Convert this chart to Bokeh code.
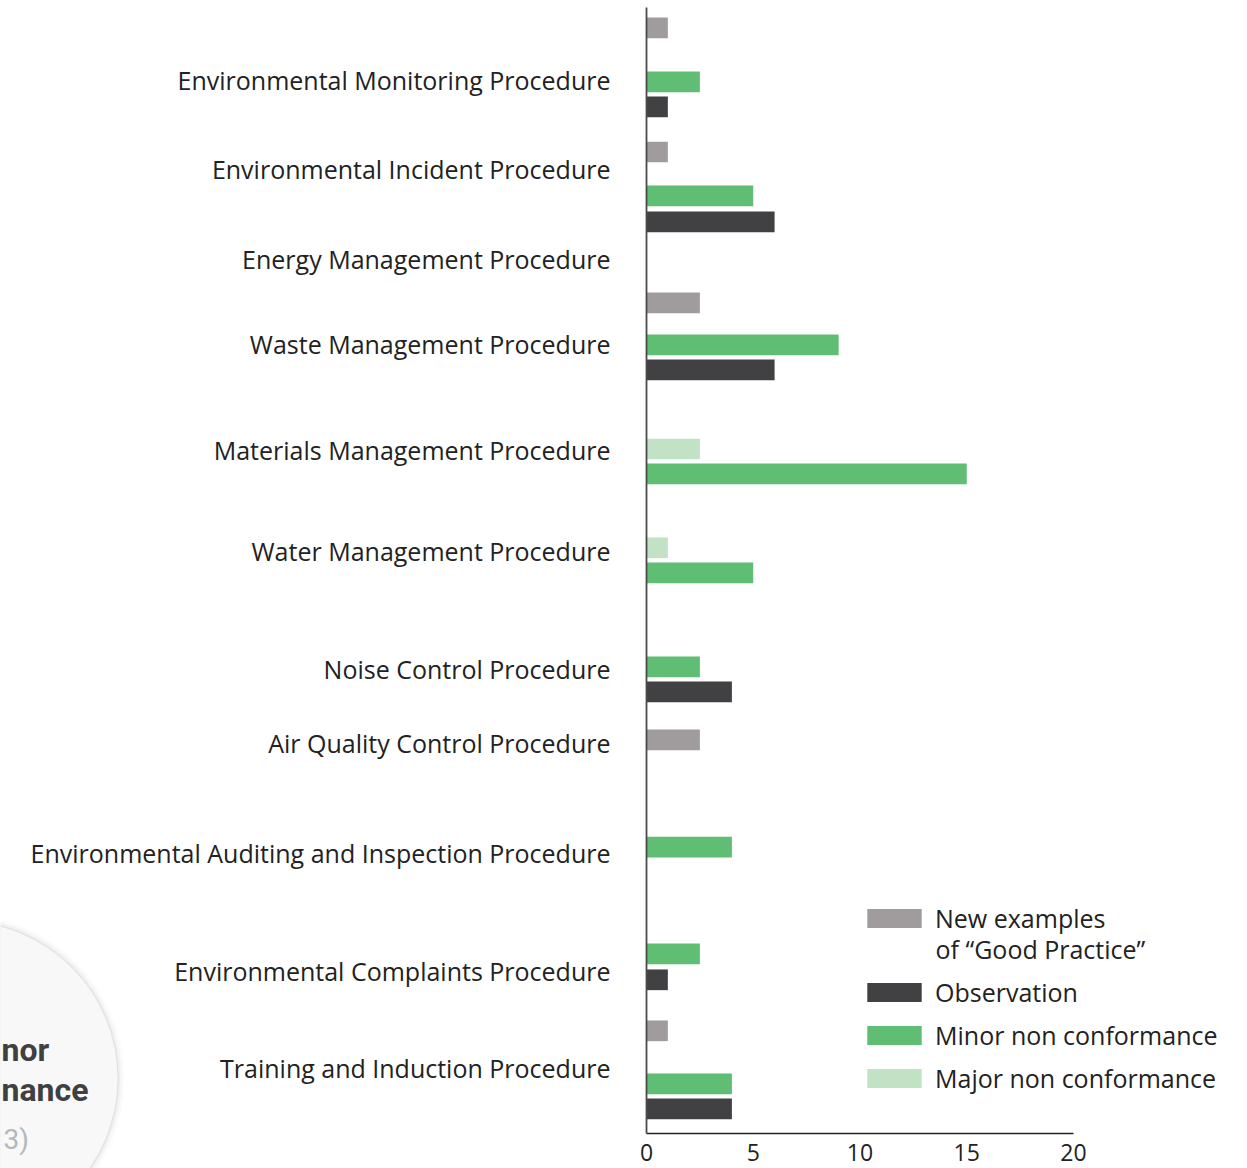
import math
from bokeh.plotting import figure
from bokeh.models import Range1d, FixedTicker, Legend, LegendItem, ColumnDataSource
from bokeh.core.properties import value
from bokeh.embed import file_html
from bokeh.resources import INLINE

# ---------------- data ----------------
categories = [
    "Environmental Monitoring Procedure",
    "Environmental Incident Procedure",
    "Energy Management Procedure",
    "Waste Management Procedure",
    "Materials Management Procedure",
    "Water Management Procedure",
    "Noise Control Procedure",
    "Air Quality Control Procedure",
    "Environmental Auditing and Inspection Procedure",
    "Environmental Complaints Procedure",
    "Training and Induction Procedure",
]
good_practice = [1, 1, 0, 2.5, 0, 0, 0, 2.5, 0, 0, 1]
observation = [1, 6, 0, 6, 0, 0, 4, 0, 0, 1, 4]
minor_nc = [2.5, 5, 0, 9, 15, 5, 2.5, 0, 4, 2.5, 4]
major_nc = [0, 0, 0, 0, 2.5, 1, 0, 0, 0, 0, 0]
x_ticks = [0, 5, 10, 15, 20]
series_labels = [
    "New examples",
    "Observation",
    "Minor non conformance",
    "Major non conformance",
]
series_label_extra = "of \u201cGood Practice\u201d"
badge_lines = ["nor", "nance", "3)"]   # visible part of the cropped neighbouring badge

# ---------------- layout (vertical positions in page pixels) ----------------
N = float("nan")
label_y = [79, 168, 258, 343, 449, 550, 668, 742, 852, 970, 1067]
slot_y = {
    "good": [27.3, 151.5, N, 302.3, N, N, N, 739.3, N, N, 1030.3],
    "obs": [106.3, 221.3, N, 369.3, N, N, 691.3, N, N, 979.3, 1108.3],
    "minor": [81.3, 195.3, N, 344.3, 473.3, 572.3, 666.3, N, 846.7, 953.3, 1083.3],
    "major": [N, N, N, N, 448.5, 547.3, N, N, N, N, N],
}
colors = {"good": "#a09c9d", "obs": "#414143", "minor": "#5fbd74", "major": "#c2e2c6"}

W, H = 1240, 1168
X0 = 646              # page px where x = 0
PPU = 21.35           # px per unit
AXIS_Y = 1133         # page px of the x axis line
def px_x(page_px):
    return (page_px - X0) / PPU

FONT = "Open Sans"
p = figure(width=W, height=H,
           x_range=Range1d(-X0 / PPU, (W - X0) / PPU),
           y_range=Range1d(H, 0),
           output_backend="svg", toolbar_location=None,
           min_border_left=0, min_border_right=0, min_border_top=0, min_border_bottom=0)
p.outline_line_color = None
p.grid.visible = False
p.background_fill_color = "white"
p.border_fill_color = "white"

# decorative badge (cropped circle from neighbouring panel)
for extra, a in [(14, 0.015), (9, 0.025), (5, 0.035), (2, 0.045)]:
    p.scatter(x=[px_x(-40)], y=[1078], size=314 + extra, marker="circle",
              fill_color="#000000", fill_alpha=a, line_color=None)
p.scatter(x=[px_x(-40)], y=[1078], size=314, marker="circle",
          fill_color="#f8f8f8", line_color=None)
p.text(x=[px_x(1)], y=[1049], text=[badge_lines[0]], text_align="left", text_baseline="middle",
       text_font=value("Roboto"), text_font_style="bold", text_font_size="32px", text_color="#3f4042")
p.text(x=[px_x(1)], y=[1089], text=[badge_lines[1]], text_align="left", text_baseline="middle",
       text_font=value("Roboto"), text_font_style="bold", text_font_size="32px", text_color="#3f4042")
p.text(x=[px_x(3)], y=[1139], text=[badge_lines[2]], text_align="left", text_baseline="middle",
       text_font=value("Roboto"), text_font_size="28px", text_color="#b5b7ba")

series = [("good", good_practice), ("obs", observation), ("minor", minor_nc), ("major", major_nc)]
renderers = {}
for key, vals in series:
    ys, xs = [], []
    for yy, v in zip(slot_y[key], vals):
        if v > 0 and not math.isnan(yy):
            ys.append(yy)
            xs.append(v)
    src = ColumnDataSource(dict(y=ys, right=xs))
    renderers[key] = p.hbar(y="y", right="right", left=0, height=20.7, source=src,
                            fill_color=colors[key], line_color=None)

# y axis (category labels)
ya = p.yaxis[0]
ya.fixed_location = 0
ya.bounds = (7, AXIS_Y)
ya.ticker = FixedTicker(ticks=label_y)
ya.major_label_overrides = {ly: c for ly, c in zip(label_y, categories)}
ya.major_tick_line_color = None
ya.minor_tick_line_color = None
ya.major_tick_out = 0
ya.major_tick_in = 0
ya.axis_line_color = "#4a4a4a"
ya.axis_line_width = 1.8
ya.major_label_standoff = 36
ya.major_label_text_font = FONT
ya.major_label_text_font_size = "25px"
ya.major_label_text_color = "#222222"

# x axis
xa = p.xaxis[0]
xa.fixed_location = AXIS_Y
xa.bounds = (0, 20)
xa.ticker = FixedTicker(ticks=x_ticks)
xa.major_tick_line_color = None
xa.minor_tick_line_color = None
xa.major_tick_out = 0
xa.major_tick_in = 0
xa.axis_line_color = "#222222"
xa.axis_line_width = 1.5
xa.major_label_standoff = 10
xa.major_label_text_font = FONT
xa.major_label_text_font_size = "23px"
xa.major_label_text_color = "#222222"

legend_style = dict(padding=0, margin=0, glyph_width=68, glyph_height=24, label_standoff=7,
                    label_height=34, label_text_font=FONT, label_text_font_size="25px",
                    label_text_color="#222222", border_line_color=None, background_fill_alpha=0)
legend_a = Legend(items=[LegendItem(label=series_labels[0], renderers=[renderers["good"]])],
                  location=(860, H - 935), spacing=9, **legend_style)
legend_b = Legend(items=[LegendItem(label=series_labels[i], renderers=[renderers[k]])
                         for i, (k, _) in enumerate(series) if i > 0],
                  location=(860, H - 1095), spacing=9, **legend_style)
p.add_layout(legend_a)
p.add_layout(legend_b)
p.text(x=[px_x(935)], y=[948], text=[series_label_extra], text_align="left", text_baseline="middle",
       text_font=value(FONT), text_font_size="25px", text_color="#222222")

open("out.html", "w").write(file_html(p, INLINE))
